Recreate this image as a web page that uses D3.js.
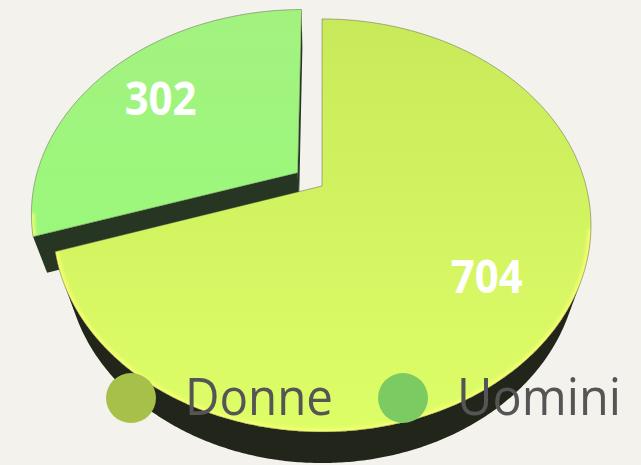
<!DOCTYPE html>
<html>
<head>
<meta charset="utf-8">
<script src="https://cdn.jsdelivr.net/npm/d3@7"></script>
<style>
  body { margin: 0; background: #f3f2ec; }
  svg { display: block; }
</style>
</head>
<body>
<div id="chart"></div>
<script>
// Daten
var categories = ["Donne", "Uomini"];
var values = [704, 302];
var sliced = [false, true];
var topColors = [["#c8ea5a", "#defe68"], ["#a3f280", "#9bf87b"]];
var sideColors = ["#21251a", "#263622"];
var legendColors = ["#a6c04a", "#7ccb62"];

var width = 641, height = 465;

// Kamera für die 3D-Projektion
var cam = { cx: 322, cy: 186, f: 909, dist: 3.443, phi: 48.9 * Math.PI / 180 };
var thickness = 0.223;
var slicedOffset = 0.115;
var labelRadius = 0.71;
var sinP = Math.sin(cam.phi), cosP = Math.cos(cam.phi);

function project(x, y, z) {
  var depth = cam.dist - y * sinP - z * cosP;
  var up = y * cosP - z * sinP;
  return [cam.cx + cam.f * x / depth, cam.cy - cam.f * up / depth];
}

var svg = d3.select("#chart").append("svg")
  .attr("width", width)
  .attr("height", height);

var defs = svg.append("defs");

var pie = d3.pie().sort(null).value(function (d) { return d; });
var arcs = pie(values);

var line = d3.line().curve(d3.curveLinearClosed);

var slices = arcs.map(function (d, i) {
  var mid = (d.startAngle + d.endAngle) / 2;
  var o = sliced[i] ? slicedOffset : 0;
  return {
    i: i,
    a0: d.startAngle,
    a1: d.endAngle,
    mid: mid,
    ox: o * Math.sin(mid),
    oz: -o * Math.cos(mid)
  };
});

function rim(s, a, y, r) {
  r = r === undefined ? 1 : r;
  return project(s.ox + r * Math.sin(a), y, s.oz - r * Math.cos(a));
}

function angles(a0, a1) {
  var n = Math.max(2, Math.ceil((a1 - a0) / (Math.PI / 360)));
  return d3.range(n + 1).map(function (k) { return a0 + (a1 - a0) * k / n; });
}

// weiter hinten liegende Stücke zuerst zeichnen
slices.sort(function (a, b) {
  return (-Math.cos(a.mid) + a.oz) - (-Math.cos(b.mid) + b.oz);
});

slices.forEach(function (s) {
  var g = svg.append("g").attr("class", "slice");
  var camZ = cam.dist * cosP;

  // radiale Seitenflächen
  [[s.a0, -1], [s.a1, 1]].forEach(function (e) {
    var a = e[0];
    var nx = e[1] < 0 ? -Math.cos(a) : Math.cos(a);
    var nz = e[1] < 0 ? -Math.sin(a) : Math.sin(a);
    var dot = nx * (-s.ox) + nz * (camZ - s.oz);
    if (dot > 1e-6) {
      var pts = [
        project(s.ox, 0, s.oz),
        rim(s, a, 0),
        rim(s, a, -thickness),
        project(s.ox, -thickness, s.oz)
      ];
      g.append("path")
        .attr("d", line(pts))
        .attr("fill", sideColors[s.i]);
    }
  });

  // äußere Mantelfläche, nur sichtbarer Teil
  var runs = [], cur = null;
  angles(s.a0, s.a1).forEach(function (a) {
    var facing = -s.ox * Math.sin(a) - 1 - (camZ - s.oz) * Math.cos(a);
    if (facing > 0) {
      if (!cur) { cur = []; runs.push(cur); }
      cur.push(a);
    } else {
      cur = null;
    }
  });
  runs.forEach(function (run) {
    var topPts = run.map(function (a) { return rim(s, a, 0); });
    var botPts = run.map(function (a) { return rim(s, a, -thickness); }).reverse();
    g.append("path")
      .attr("d", line(topPts.concat(botPts)))
      .attr("fill", sideColors[s.i]);
  });

  // Deckfläche
  var topPts = [project(s.ox, 0, s.oz)].concat(angles(s.a0, s.a1).map(function (a) { return rim(s, a, 0); }));
  var ys = topPts.map(function (p) { return p[1]; });

  var grad = defs.append("linearGradient")
    .attr("id", "grad" + s.i)
    .attr("gradientUnits", "userSpaceOnUse")
    .attr("x1", 0).attr("x2", 0)
    .attr("y1", d3.min(ys)).attr("y2", d3.max(ys));
  grad.append("stop").attr("offset", "0%").attr("stop-color", topColors[s.i][0]);
  grad.append("stop").attr("offset", "100%").attr("stop-color", topColors[s.i][1]);

  defs.append("clipPath").attr("id", "clip" + s.i)
    .append("path").attr("d", line(topPts));

  g.append("path")
    .attr("d", line(topPts))
    .attr("fill", "url(#grad" + s.i + ")");

  // heller Rand an der Vorderkante
  var front = angles(s.a0, s.a1).filter(function (a) { return Math.cos(a) < -0.2; });
  if (front.length > 1) {
    g.append("path")
      .attr("clip-path", "url(#clip" + s.i + ")")
      .attr("d", d3.line()(front.map(function (a) { return rim(s, a, 0); })))
      .attr("fill", "none")
      .attr("stroke", "#fbff74")
      .attr("stroke-width", 7)
      .attr("stroke-opacity", 0.75)
      .style("filter", "blur(1.5px)");
  }

  g.append("path")
    .attr("d", line(topPts))
    .attr("fill", "none")
    .attr("stroke", "#4a4f3a")
    .attr("stroke-opacity", 0.55)
    .attr("stroke-width", 0.8);

  // Datenbeschriftung
  var lp = rim(s, s.mid, 0, labelRadius);
  g.append("text")
    .attr("x", lp[0])
    .attr("y", lp[1] + 17)
    .attr("text-anchor", "middle")
    .attr("textLength", 72)
    .attr("lengthAdjust", "spacingAndGlyphs")
    .style("font-family", "'Open Sans', sans-serif")
    .style("font-weight", "bold")
    .style("font-size", "47px")
    .style("fill", "#ffffff")
    .text(values[s.i]);
});

// Legende
var legend = svg.append("g").attr("class", "legend");
var legendX = d3.scalePoint().domain(categories).range([131, 403]);
var legendWidths = [148, 164];

categories.forEach(function (c, i) {
  var item = legend.append("g").attr("transform", "translate(" + legendX(c) + ",398)");
  item.append("circle")
    .attr("r", 25)
    .attr("fill", legendColors[i]);
  item.append("text")
    .attr("x", 54)
    .attr("y", 17)
    .attr("textLength", legendWidths[i])
    .attr("lengthAdjust", "spacingAndGlyphs")
    .style("font-family", "'Open Sans', sans-serif")
    .style("font-size", "52px")
    .style("fill", "#555555")
    .text(c);
});
</script>
</body>
</html>
